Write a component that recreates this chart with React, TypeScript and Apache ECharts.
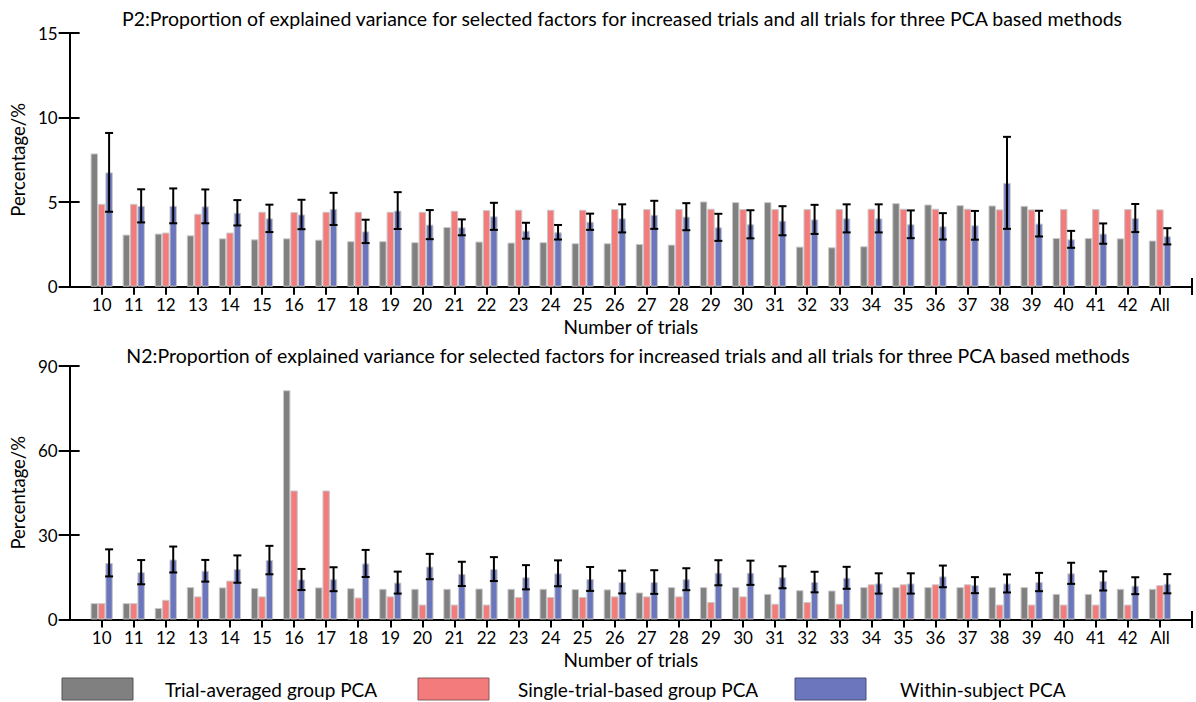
import { useEffect, useRef } from "react";
import * as echarts from "echarts";

const trials = [
  "10", "11", "12", "13", "14", "15", "16", "17", "18", "19", "20", "21",
  "22", "23", "24", "25", "26", "27", "28", "29", "30", "31", "32", "33",
  "34", "35", "36", "37", "38", "39", "40", "41", "42", "All"
];

const seriesNames = [
  "Trial-averaged group PCA",
  "Single-trial-based group PCA",
  "Within-subject PCA"
];

const p2Averaged = [
  7.88, 3.08, 3.14, 3.04, 2.86, 2.8, 2.86, 2.78, 2.69, 2.69, 2.63, 3.53,
  2.67, 2.61, 2.63, 2.57, 2.57, 2.53, 2.49, 5.04, 5.0, 5.0, 2.37, 2.33,
  2.39, 4.94, 4.86, 4.82, 4.8, 4.78, 2.88, 2.88, 2.86, 2.73
];
const p2SingleTrial = [
  4.9, 4.9, 3.2, 4.31, 3.2, 4.43, 4.41, 4.43, 4.43, 4.43, 4.43, 4.49,
  4.53, 4.55, 4.55, 4.55, 4.59, 4.59, 4.59, 4.61, 4.59, 4.59, 4.59, 4.59,
  4.61, 4.61, 4.61, 4.61, 4.57, 4.57, 4.59, 4.59, 4.59, 4.57
];
const p2WithinSubject = [
  6.76, 4.78, 4.78, 4.75, 4.37, 4.04, 4.27, 4.6, 3.27, 4.5, 3.67, 3.51,
  4.16, 3.31, 3.22, 3.84, 4.04, 4.25, 4.14, 3.51, 3.69, 3.9, 3.98, 4.04,
  4.04, 3.69, 3.57, 3.63, 6.14, 3.73, 2.8, 3.14, 4.06, 2.98
];
const p2WithinSubjectErr = [
  2.33, 0.98, 1.03, 1.0, 0.75, 0.81, 0.87, 0.95, 0.69, 1.09, 0.86, 0.47,
  0.8, 0.47, 0.43, 0.48, 0.83, 0.83, 0.8, 0.8, 0.83, 0.86, 0.86, 0.83,
  0.83, 0.82, 0.78, 0.85, 2.72, 0.76, 0.5, 0.6, 0.83, 0.48
];

const n2Averaged = [
  5.8, 5.8, 4.1, 11.5, 11.4, 11.2, 81.4, 11.4, 11.1, 10.9, 10.9, 10.9,
  11.0, 10.9, 10.9, 10.8, 10.7, 9.6, 11.5, 11.5, 11.5, 9.1, 10.4, 10.3,
  11.5, 11.5, 11.5, 11.5, 11.5, 11.5, 9.1, 9.1, 10.9, 10.9
];
const n2SingleTrial = [
  5.8, 5.8, 7.0, 8.2, 13.8, 8.2, 45.8, 45.8, 7.8, 8.2, 5.3, 5.3,
  5.3, 8.0, 8.0, 8.0, 8.2, 8.2, 8.2, 6.2, 8.2, 5.6, 6.2, 5.6,
  12.5, 12.5, 12.5, 12.5, 5.3, 5.3, 5.3, 5.3, 5.3, 12.2
];
const n2WithinSubject = [
  20.1, 16.8, 21.3, 17.3, 17.9, 21.1, 14.2, 14.3, 19.9, 13.1, 18.8, 16.2,
  17.9, 15.0, 16.4, 14.4, 13.3, 13.3, 14.3, 16.6, 16.6, 15.0, 13.3, 14.8,
  12.8, 12.8, 15.3, 12.2, 12.8, 13.3, 16.4, 13.7, 12.0, 12.7
];
const n2WithinSubjectErr = [
  4.8, 4.3, 4.6, 3.85, 4.85, 5.05, 3.75, 4.25, 4.8, 3.9, 4.5, 4.3,
  4.25, 4.3, 4.6, 4.25, 4.05, 4.2, 3.9, 4.45, 4.3, 3.9, 3.65, 3.9,
  3.6, 3.6, 3.85, 2.85, 3.2, 3.25, 3.75, 3.4, 3.0, 3.4
];

const COLORS = ["#808080", "#f47b7b", "#6b76bd"];
const BAR_W = 7.4;
const FONT = "Lato, 'Liberation Sans', sans-serif";

// one empty slot at each end, so the axis runs a full step past 10 and All
const padded = ["", ...trials, ""];
const pad = (arr: number[]) => [null, ...arr, null];

function errorBars(grid: number, means: number[], errs: number[]) {
  return {
    type: "custom",
    xAxisIndex: grid,
    yAxisIndex: grid * 2,
    z: 5,
    silent: true,
    data: means.map((m, k) => [k + 1, m, errs[k]]),
    renderItem: (_params: any, api: any) => {
      const i = api.value(0);
      const m = api.value(1);
      const e = api.value(2);
      const hi = api.coord([i, m + e]);
      const lo = api.coord([i, m - e]);
      const x = hi[0] + BAR_W;
      const style = { stroke: "#000", lineWidth: 2 };
      return {
        type: "group",
        children: [
          { type: "line", shape: { x1: x, y1: hi[1], x2: x, y2: lo[1] }, style },
          { type: "line", shape: { x1: x - 4, y1: hi[1], x2: x + 4, y2: hi[1] }, style },
          { type: "line", shape: { x1: x - 4, y1: lo[1], x2: x + 4, y2: lo[1] }, style }
        ]
      };
    }
  };
}

function bars(grid: number, values: number[][]) {
  return values.map((vals, s) => ({
    name: seriesNames[s],
    type: "bar",
    xAxisIndex: grid,
    yAxisIndex: grid * 2,
    barWidth: BAR_W,
    barGap: "0%",
    data: pad(vals),
    itemStyle: { color: COLORS[s], borderColor: "#c8c8c8", borderWidth: 1 }
  }));
}

const tickText = { color: "#000", fontFamily: FONT, fontSize: 17 };
const nameText = { color: "#000", fontFamily: FONT, fontSize: 19 };

function xAxis(grid: number) {
  return {
    type: "category",
    gridIndex: grid,
    data: padded,
    boundaryGap: false,
    name: "Number of trials",
    nameLocation: "middle",
    nameGap: 30,
    nameTextStyle: { ...nameText, lineHeight: 20 },
    axisLine: { show: true, lineStyle: { color: "#000", width: 2 } },
    axisTick: {
      show: true,
      length: 8,
      interval: (i: number) => i > 0 && i < padded.length - 1,
      lineStyle: { color: "#000", width: 2 }
    },
    axisLabel: { ...tickText, lineHeight: 18, margin: 9, interval: 0 }
  };
}

function yAxes(grid: number, max: number, step: number) {
  const common = { type: "value", gridIndex: grid, min: 0, max, interval: step, splitLine: { show: false } };
  return [
    {
      ...common,
      name: "Percentage/%",
      nameLocation: "middle",
      nameGap: 36,
      nameTextStyle: { ...nameText, fontSize: 18.5 },
      axisLine: { show: true, lineStyle: { color: "#000", width: 2 } },
      axisTick: { show: true, length: 11, lineStyle: { color: "#000", width: 2 } },
      axisLabel: { ...tickText, margin: 12 }
    },
    {
      ...common,
      position: "left",
      axisLine: { show: false },
      axisTick: { show: true, inside: true, length: 10, lineStyle: { color: "#000", width: 2 } },
      axisLabel: { show: false }
    }
  ];
}

const legendX = [62, 418, 795];
const legendTextX = [165, 518, 900];
const legendBorder = ["#555555", "#8a5a5a", "#4a4f7a"];

const titleStyle = {
  fontFamily: FONT,
  fontSize: 19.5,
  fill: "#000",
  align: "center",
  verticalAlign: "middle"
};

export default function App() {
  const ref = useRef<HTMLDivElement>(null);

  useEffect(() => {
    if (!ref.current) return;
    const chart = echarts.init(ref.current, null, { renderer: "svg" });

    chart.setOption({
      animation: false,
      backgroundColor: "#fff",
      textStyle: { fontFamily: FONT },
      grid: [
        { left: 62, top: 33, width: 1130, height: 253.7 },
        { left: 62, top: 366, width: 1130, height: 253.5 }
      ],
      xAxis: [xAxis(0), xAxis(1)],
      yAxis: [...yAxes(0, 15, 5), ...yAxes(1, 90, 30)],
      series: [
        ...bars(0, [p2Averaged, p2SingleTrial, p2WithinSubject]),
        errorBars(0, p2WithinSubject, p2WithinSubjectErr),
        ...bars(1, [n2Averaged, n2SingleTrial, n2WithinSubject]),
        errorBars(1, n2WithinSubject, n2WithinSubjectErr)
      ],
      graphic: [
        {
          type: "text",
          x: 622,
          y: 18,
          style: {
            ...titleStyle,
            text: "P2:Proportion of explained variance for selected factors for increased trials and all trials for three PCA based methods"
          }
        },
        {
          type: "text",
          x: 628,
          y: 355,
          style: {
            ...titleStyle,
            text: "N2:Proportion of explained variance for selected factors for increased trials and all trials for three PCA based methods"
          }
        },
        { type: "line", shape: { x1: 1192, y1: 278, x2: 1192, y2: 295 }, style: { stroke: "#000", lineWidth: 2 } },
        { type: "line", shape: { x1: 1192, y1: 611, x2: 1192, y2: 628 }, style: { stroke: "#000", lineWidth: 2 } },
        ...seriesNames.flatMap((name, s) => [
          {
            type: "rect",
            shape: { x: legendX[s], y: 678, width: 71, height: 22 },
            style: { fill: COLORS[s], stroke: legendBorder[s], lineWidth: 1 }
          },
          {
            type: "text",
            x: legendTextX[s],
            y: 689,
            style: { text: name, fontFamily: FONT, fontSize: 19, fill: "#000", verticalAlign: "middle" }
          }
        ])
      ]
    });

    return () => chart.dispose();
  }, []);

  return (
    <div
      ref={ref}
      style={{ position: "fixed", left: 0, top: 0, width: 1196, height: 702, background: "#fff" }}
    />
  );
}
